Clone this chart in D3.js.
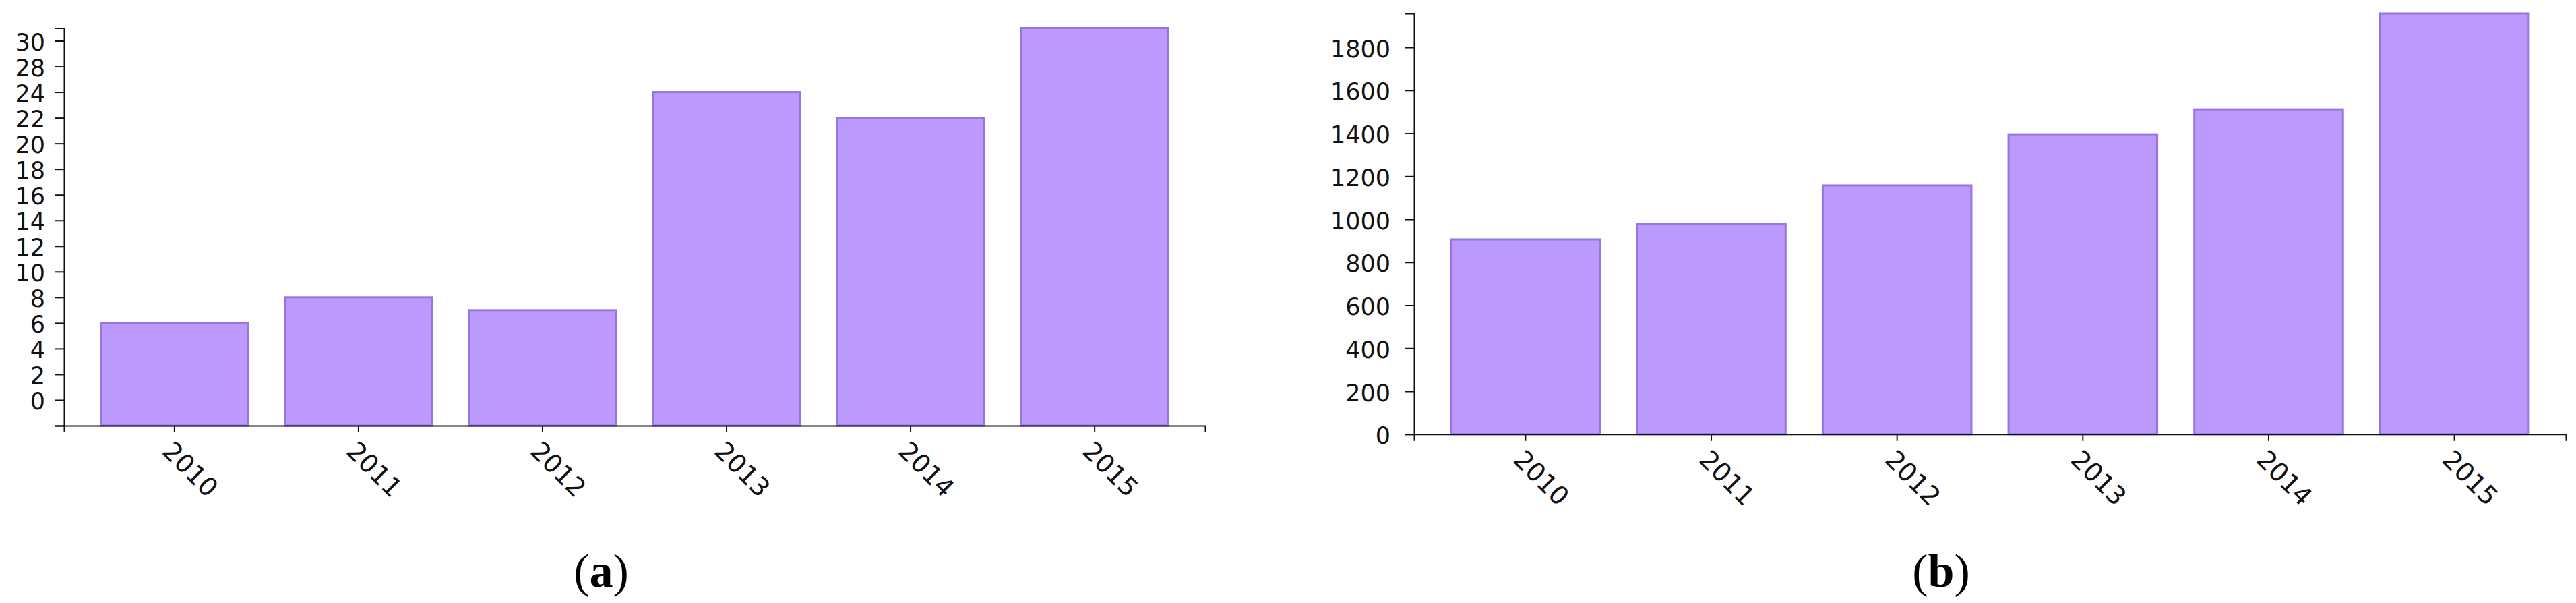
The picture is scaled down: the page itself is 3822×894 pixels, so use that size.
<!DOCTYPE html>
<html>
<head>
<meta charset="utf-8">
<script src="https://cdn.jsdelivr.net/npm/d3@7"></script>
<style>
  body { margin: 0; background: #fff; }
  .tick text { font-family: "DejaVu Sans", sans-serif; font-size: 35px; fill: #111; }
  .x-axis .tick text { font-size: 38px; }
  .axis path, .axis line { stroke: #111; stroke-width: 2; }
  .bar { fill: #bc99fd; stroke: #9674e4; stroke-width: 3; }
  .panel-label { font-family: "Liberation Serif", "Times New Roman", serif; font-size: 70px; fill: #000; }
</style>
</head>
<body>
<svg width="3822" height="894"></svg>
<script>
const years = ["2010", "2011", "2012", "2013", "2014", "2015"];

const countsA = [6, 8, 7, 24, 22, 29];
const tickValuesA = [-2, 0, 2, 4, 6, 8, 10, 12, 14, 16, 18, 20, 22, 24, 26, 28];
const tickLabelsA = ["", "0", "2", "4", "6", "8", "10", "12", "14", "16", "18", "20", "22", "24", "28", "30"];

const countsB = [906, 978, 1157, 1395, 1511, 1957];
const tickValuesB = [0, 200, 400, 600, 800, 1000, 1200, 1400, 1600, 1800];

const svg = d3.select("svg");

function drawPanel(opts) {
  const { values, xRange, yRange, yMin, tickValues, tickLabels, tickPadding, label, labelX } = opts;

  const x = d3.scaleBand()
    .domain(years)
    .range(xRange)
    .paddingInner(0.2)
    .paddingOuter(0.2);

  const y = d3.scaleLinear()
    .domain([yMin, d3.max(values)])
    .range(yRange);

  const g = svg.append("g");

  g.selectAll("rect")
    .data(values)
    .enter().append("rect")
    .attr("class", "bar")
    .attr("x", (d, i) => x(years[i]))
    .attr("width", x.bandwidth())
    .attr("y", d => y(d))
    .attr("height", d => y(yMin) - y(d));

  const yAxis = d3.axisLeft(y)
    .tickValues(tickValues)
    .tickSize(13)
    .tickPadding(tickPadding)
    .tickFormat((d, i) => tickLabels ? tickLabels[i] : d);

  g.append("g")
    .attr("class", "axis")
    .attr("transform", `translate(${xRange[0]},0)`)
    .call(yAxis)
    .call(a => a.selectAll("text").attr("dy", "0.4em"));

  g.append("g")
    .attr("class", "axis x-axis")
    .attr("transform", `translate(0,${y(yMin)})`)
    .call(d3.axisBottom(x).tickSize(10))
    .call(a => a.selectAll("text")
      .attr("x", 0)
      .attr("y", 0)
      .attr("dy", 0)
      .attr("text-anchor", "start")
      .attr("transform", "translate(-20,40) rotate(45)"));

  const t = svg.append("text")
    .attr("class", "panel-label")
    .attr("x", labelX)
    .attr("y", 870)
    .attr("text-anchor", "middle");
  t.append("tspan").text("(");
  t.append("tspan").attr("font-weight", "bold").text(label);
  t.append("tspan").text(")");
}

drawPanel({
  values: countsA,
  xRange: [95, 1788],
  yRange: [631, 41.5],
  yMin: -2,
  tickValues: tickValuesA,
  tickLabels: tickLabelsA,
  tickPadding: 15,
  label: "a",
  labelX: 892
});

drawPanel({
  values: countsB,
  xRange: [2098, 3807],
  yRange: [643.75, 20],
  yMin: 0,
  tickValues: tickValuesB,
  tickLabels: null,
  tickPadding: 22,
  label: "b",
  labelX: 2880
});
</script>
</body>
</html>
